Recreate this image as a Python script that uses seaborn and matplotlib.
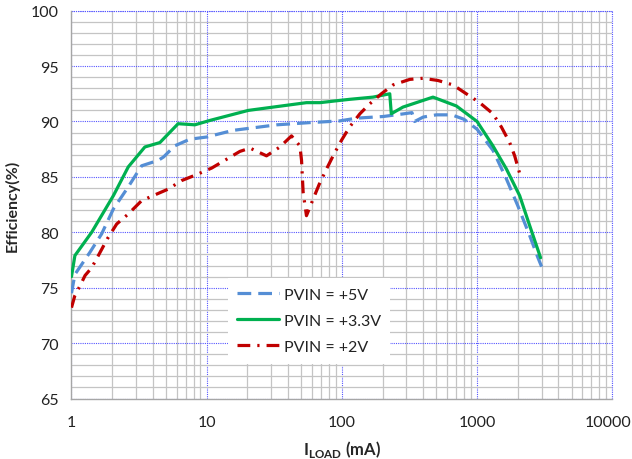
import matplotlib
matplotlib.use("Agg")
import matplotlib.pyplot as plt
import matplotlib.transforms as mtransforms
from matplotlib.ticker import FixedLocator, NullFormatter, FixedFormatter
import numpy as np
import pandas as pd
import seaborn as sns

# Efficiency vs load current for three PVIN supply levels
load_5v = [1, 1.06, 1.37, 1.67, 2.04, 2.63, 3.3, 4.4, 4.8, 5.8, 7.5, 10, 15.7, 33, 58, 96,
           128, 202, 290, 330, 345, 400, 500, 650, 800, 1000, 1310, 1650, 2000, 2450, 2800, 3000]
eff_5v = [74.5, 76.2, 78.2, 79.85, 82.1, 84.1, 86.0, 86.5, 86.8, 87.8, 88.4, 88.6, 89.2, 89.7, 89.9, 90.05,
          90.3, 90.45, 90.7, 90.8, 90.0, 90.4, 90.6, 90.6, 90.2, 89.3, 87.4, 84.8, 82.4, 79.7, 77.8, 76.9]

load_3v3 = [1, 1.06, 1.41, 2.04, 2.63, 3.49, 4.51, 6.15, 8.18, 10.6, 20.3, 54.7, 68.9, 96, 114, 170,
            226, 232, 283, 472, 703, 1000, 1310, 1650, 2066, 2450, 2950]
eff_3v3 = [76.0, 77.9, 80.0, 83.3, 85.9, 87.7, 88.1, 89.8, 89.7, 90.1, 91.0, 91.7, 91.7, 91.9, 92.0, 92.2,
           92.5, 90.7, 91.3, 92.2, 91.4, 90.0, 87.8, 85.7, 83.3, 80.6, 77.7]

load_2v = [1, 1.06, 1.16, 1.26, 1.41, 1.58, 1.84, 2.16, 2.63, 3.3, 4.0, 5.2, 6.5, 8.4, 10.9, 17.6,
           20.9, 27.7, 34.8, 42.4, 48.9, 50.3, 51.7, 54.7, 61.3, 67.8, 76.9, 86.1, 99.3, 114, 136,
           161, 196, 239, 318, 398, 514, 664, 881, 1045, 1310, 1513, 1742, 1897, 2100]
eff_2v = [73.2, 74.3, 75.2, 76.1, 76.8, 77.9, 79.4, 80.75, 81.65, 82.85, 83.3, 83.9, 84.66, 85.2, 85.8, 87.3,
          87.6, 86.9, 87.7, 88.7, 87.8, 86.5, 83.6, 81.5, 83.0, 84.3, 85.7, 86.9, 88.3, 89.5, 90.7,
          91.6, 92.5, 93.3, 93.8, 93.9, 93.7, 93.3, 92.3, 91.7, 90.7, 89.5, 88.1, 86.9, 85.0]

series_labels = ["PVIN = +5V", "PVIN = +3.3V", "PVIN = +2V"]
x_ticks = [1, 10, 100, 1000, 10000]
x_tick_labels = ["1", "10", "100", "1000", "10000"]
y_ticks = [65, 70, 75, 80, 85, 90, 95, 100]

sns.set_style("white")
plt.rcParams["font.family"] = ["Lato", "DejaVu Sans"]
plt.rcParams["mathtext.fontset"] = "custom"
plt.rcParams["mathtext.rm"] = "Lato"
plt.rcParams["mathtext.bf"] = "Lato:bold"

fig = plt.figure(figsize=(6.32, 4.60), dpi=100)
ax = fig.add_axes([0.1131, 0.1315, 0.8557, 0.8431])

styles = [
    dict(color="#558ED5", dashes=(4.3, 2.2)),
    dict(color="#00B050", dashes=None),
    dict(color="#C00000", dashes=(4.0, 2.2, 0.7, 2.2)),
]
datasets = [(load_5v, eff_5v), (load_3v3, eff_3v3), (load_2v, eff_2v)]

for (xs, ys), lab, st in zip(datasets, series_labels, styles):
    df = pd.DataFrame({"load": xs, "eff": ys})
    sns.lineplot(data=df, x="load", y="eff", ax=ax, color=st["color"], lw=2.3,
                 sort=False, estimator=None, label=lab, zorder=3)
    if st["dashes"] is not None:
        ax.lines[-1].set_dashes(st["dashes"])

ax.set_xscale("log")
ax.set_xlim(1, 10000)
ax.set_ylim(65, 100)

ax.xaxis.set_major_locator(FixedLocator(x_ticks))
ax.xaxis.set_major_formatter(FixedFormatter(x_tick_labels))
minor_x = [m * d for d in [1, 10, 100, 1000] for m in range(2, 10)]
ax.xaxis.set_minor_locator(FixedLocator(minor_x))
ax.xaxis.set_minor_formatter(NullFormatter())
ax.yaxis.set_major_locator(FixedLocator(y_ticks))
ax.yaxis.set_minor_locator(FixedLocator([v for v in range(65, 101) if v % 5]))

major_grid = dict(color="#5555FF", lw=0.8, ls=(0, (1, 1)))
ax.set_axisbelow(True)
ax.grid(which="minor", color="#C4C4C4", lw=0.9, ls="-")
ax.grid(which="major", **major_grid)

for side in ["top", "right"]:
    ax.spines[side].set_visible(False)
for side in ["left", "bottom"]:
    ax.spines[side].set_color("#A6A6A6")
    ax.spines[side].set_linewidth(1.0)
# dotted frame edges along the top and right limits
ax.axhline(100, zorder=2, clip_on=False, **major_grid)
ax.axvline(10000, zorder=2, clip_on=False, **major_grid)

ax.tick_params(axis="x", which="major", direction="out", length=5, width=0.9,
               color="#A6A6A6", labelsize=11.5, labelcolor="#222222", pad=7)
ax.tick_params(axis="y", which="major", length=0, labelsize=11.5,
               labelcolor="#222222", pad=9)
ax.tick_params(which="minor", length=0)

# keep the last x tick label inside the figure edge
last_label = ax.get_xticklabels()[-1]
last_label.set_transform(last_label.get_transform() +
                         mtransforms.ScaledTranslation(-4 / 100, 0, fig.dpi_scale_trans))

ax.set_ylabel("Efficiency(%)", fontsize=11.5, fontweight="bold", labelpad=8)
ax.set_xlabel(r"$\mathbf{I}_{\mathbf{LOAD}}$ (mA)", fontsize=12, fontweight="bold", labelpad=6)

leg = ax.legend(loc="upper left", bbox_to_anchor=(0.289, 0.311), frameon=True,
                fancybox=False, framealpha=1, facecolor="white", edgecolor="none",
                fontsize=11.5, handlelength=2.6, handletextpad=0.3, labelspacing=0.75,
                borderpad=0.6, borderaxespad=0)
for t in leg.get_texts():
    t.set_color("#222222")

fig.savefig("out.png", dpi=100)
